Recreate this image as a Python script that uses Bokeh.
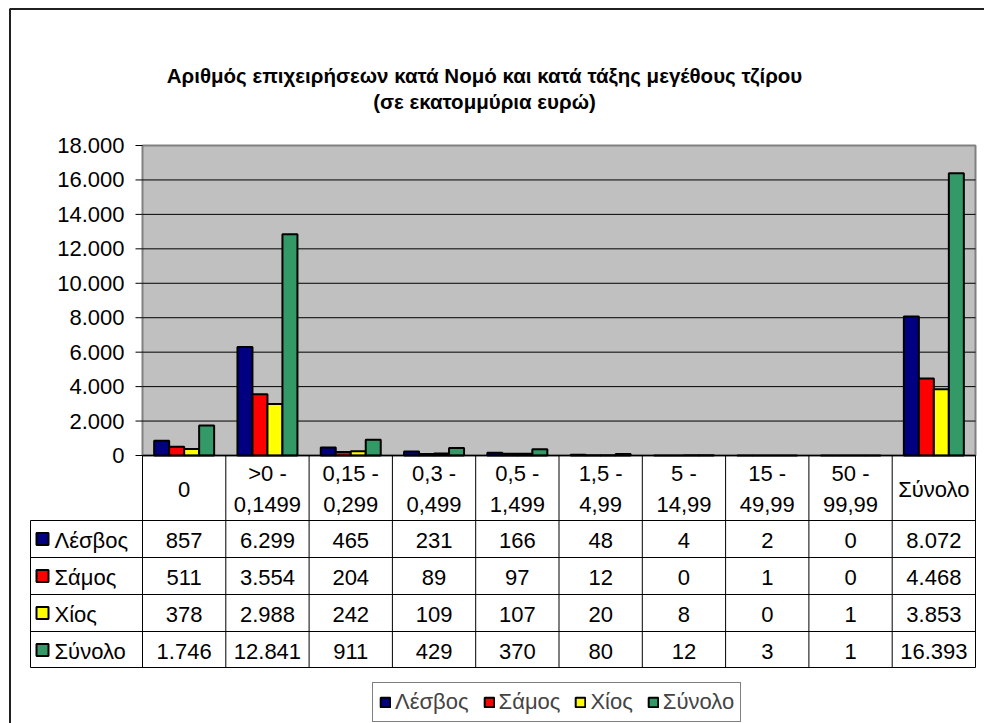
from bokeh.plotting import figure
from bokeh.models import Range1d, Legend, LegendItem
from bokeh.core.properties import value
from bokeh.embed import file_html
from bokeh.resources import INLINE

# ---------------- data ----------------
title_lines = ["Αριθμός επιχειρήσεων κατά Νομό και κατά τάξης μεγέθους τζίρου",
               "(σε εκατομμύρια ευρώ)"]
categories = ["0", ">0 -\n0,1499", "0,15 -\n0,299", "0,3 -\n0,499", "0,5 -\n1,499",
              "1,5 -\n4,99", "5 -\n14,99", "15 -\n49,99", "50 -\n99,99", "Σύνολο"]
series_names = ["Λέσβος", "Σάμος", "Χίος", "Σύνολο"]
lesvos = [857, 6299, 465, 231, 166, 48, 4, 2, 0, 8072]
samos = [511, 3554, 204, 89, 97, 12, 0, 1, 0, 4468]
chios = [378, 2988, 242, 109, 107, 20, 8, 0, 1, 3853]
synolo = [1746, 12841, 911, 429, 370, 80, 12, 3, 1, 16393]
y_ticks = [0, 2000, 4000, 6000, 8000, 10000, 12000, 14000, 16000, 18000]
y_tick_labels = ["0", "2.000", "4.000", "6.000", "8.000", "10.000", "12.000",
                 "14.000", "16.000", "18.000"]

series = [lesvos, samos, chios, synolo]
colors = ["#000080", "#FF0000", "#FFFF00", "#339966"]

# ---------------- layout (page pixels) ----------------
PX0, PX1, PY0, PY1 = 0, 984, 0, 723
L, R, T, B = 142, 975, 145, 455
Y_MAX = y_ticks[-1]
n = len(categories)
ux = (R - L) / n
uy = (B - T) / Y_MAX
FONT_NAME = "Liberation Sans"
FONT = value(FONT_NAME)
FS = "22px"

p = figure(width=PX1 - PX0, height=PY1 - PY0, output_backend="svg", toolbar_location=None,
           x_axis_type=None, y_axis_type=None, min_border=0,
           x_range=Range1d(-(L - PX0) / ux, n + (PX1 - R) / ux),
           y_range=Range1d(-(PY1 - B) / uy, Y_MAX + (T - PY0) / uy))
p.title.visible = False
p.outline_line_color = None
p.background_fill_color = "white"
p.border_fill_color = "white"
p.extra_x_ranges = {"px": Range1d(PX0, PX1)}
p.extra_y_ranges = {"px": Range1d(PY1, PY0)}

# outer chart border (left and top visible)
p.line(x=[9.5, 9.5, PX1], y=[PY1, 8.5, 8.5], x_range_name="px", y_range_name="px",
       line_color="#202020", line_width=2)

# title
p.text(x=[484, 484], y=[75, 101], text=title_lines, x_range_name="px", y_range_name="px",
       text_align="center", text_baseline="middle", text_font=FONT,
       text_font_size="20.5px", text_font_style="bold", text_color="black")

# plot area
p.quad(left=[0], right=[n], bottom=[0], top=[Y_MAX], fill_color="#C0C0C0",
       line_color="#808080", line_width=2)
p.segment(x0=[0] * (len(y_ticks) - 2), x1=[n] * (len(y_ticks) - 2),
          y0=y_ticks[1:-1], y1=y_ticks[1:-1], line_color="black", line_width=1)

# y axis ticks and labels
p.segment(x0=[135] * len(y_ticks), x1=[L] * len(y_ticks), y0=y_ticks, y1=y_ticks,
          x_range_name="px", line_color="black", line_width=1)
p.text(x=[124] * len(y_ticks), y=y_ticks, text=y_tick_labels, x_range_name="px",
       text_align="right", text_baseline="middle", text_font=FONT,
       text_font_size=FS, text_color="black")

# bars
bw = 0.18
offsets = [-1.5 * bw, -0.5 * bw, 0.5 * bw, 1.5 * bw]
renderers = []
for vals, col, off in zip(series, colors, offsets):
    r = p.vbar(x=[i + 0.5 + off for i in range(n)], top=vals, bottom=0, width=bw,
               fill_color=col, line_color="black", line_width=2)
    renderers.append(r)

# category axis line
p.segment(x0=[0], x1=[n], y0=[0], y1=[0], line_color="black", line_width=1.5)

# ---------------- data table ----------------
HDR_B = 520
row_tops = [520, 557, 594, 631]
row_h = 36
TBL_B = row_tops[-1] + row_h
TL = 30
# vertical lines
p.segment(x0=list(range(n + 1)), x1=list(range(n + 1)), y0=[B] * (n + 1), y1=[TBL_B] * (n + 1),
          y_range_name="px", line_color="black", line_width=1)
p.segment(x0=[TL], x1=[TL], y0=[HDR_B], y1=[TBL_B], x_range_name="px", y_range_name="px",
          line_color="black", line_width=1)
# horizontal lines
hl = [HDR_B] + [t + 37 for t in row_tops[:-1]] + [TBL_B]
p.segment(x0=[TL] * len(hl), x1=[R] * len(hl), y0=hl, y1=hl, x_range_name="px",
          y_range_name="px", line_color="black", line_width=1)
# header
p.text(x=[i + 0.5 for i in range(n)], y=[(B + HDR_B) / 2 + 1] * n, text=categories,
       y_range_name="px", text_align="center", text_baseline="middle", text_font=FONT,
       text_font_size=FS, text_line_height=1.25, text_color="black")


def fmt(v):
    return f"{v:,}".replace(",", ".")


for k, (name, vals, col) in enumerate(zip(series_names, series, colors)):
    yc = row_tops[k] + 18.5
    p.rect(x=[42], y=[yc], width=12, height=12, x_range_name="px", y_range_name="px",
           fill_color=col, line_color="black", line_width=2)
    p.text(x=[54], y=[yc + 1], text=[name], x_range_name="px", y_range_name="px",
           text_align="left", text_baseline="middle", text_font=FONT,
           text_font_size=FS, text_color="black")
    p.text(x=[i + 0.5 for i in range(n)], y=[yc + 1] * n, text=[fmt(v) for v in vals],
           y_range_name="px", text_align="center", text_baseline="middle",
           text_font=FONT, text_font_size=FS, text_color="black")

# ---------------- legend ----------------
legend = Legend(items=[LegendItem(label=nm, renderers=[r]) for nm, r in zip(series_names, renderers)],
                orientation="horizontal", location=(372, 1), glyph_width=12, glyph_height=12,
                label_text_font=FONT_NAME, label_text_font_size=FS, label_standoff=4, spacing=14,
                padding=6, margin=0, border_line_color="black", border_line_width=1,
                background_fill_color="white", background_fill_alpha=1.0,
                label_height=20, label_text_baseline="middle")
p.add_layout(legend)

open("out.html", "w").write(file_html(p, INLINE))
